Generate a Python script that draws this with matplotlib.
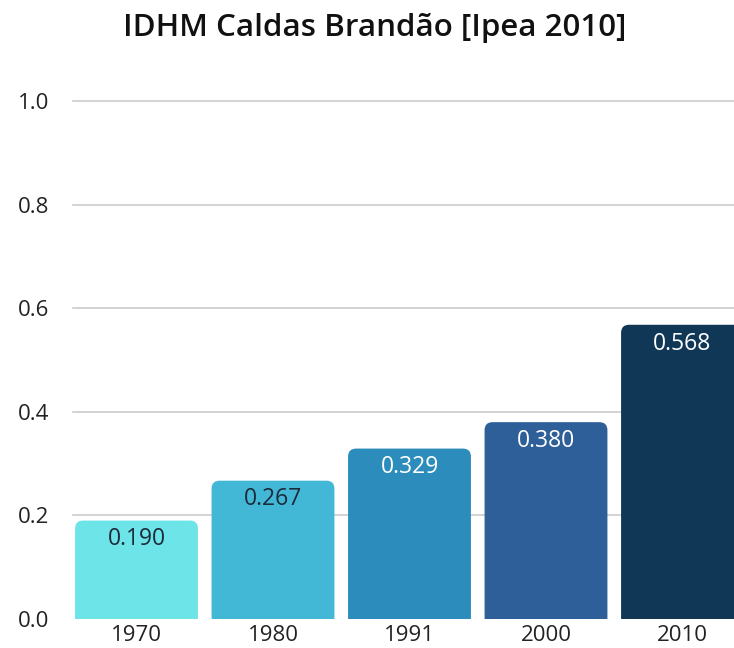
import matplotlib
matplotlib.use("Agg")
import matplotlib.pyplot as plt
from matplotlib.patches import FancyBboxPatch

years = ["1970", "1980", "1991", "2000", "2010"]
idhm = [0.190, 0.267, 0.329, 0.380, 0.568]
colors = ["#6ce4e8", "#42b8d6", "#2c8cbc", "#2f5f98", "#113757"]
label_colors = ["#1c2b3a", "#1c2b3a", "white", "white", "white"]
yticks = [0.0, 0.2, 0.4, 0.6, 0.8, 1.0]

plt.rcParams["font.family"] = ["Open Sans", "DejaVu Sans"]

W, H = 734, 648
fig = plt.figure(figsize=(W / 100, H / 100), dpi=100)
# axes in pixel terms: left 73, y=0 at 619, y=1 at 101, cell width 136.5
cell = 136.5
left_px = 73
xmin = -0.5 + (left_px - 68.25) / cell
width_px = (4.5 - xmin) * cell
ax = fig.add_axes([left_px / W, (H - 619) / H, width_px / W, (619 - 101) / H])
ax.set_xlim(xmin, 4.5)
ax.set_ylim(0, 1.0)

bars = ax.bar(range(len(years)), idhm, width=0.9)
rx = 8 / cell
ry = 8 / 518
for b, c, lc, v in zip(bars, colors, label_colors, idhm):
    b.set_visible(False)
    p = FancyBboxPatch((b.get_x(), -0.03), b.get_width(), v + 0.03,
                       boxstyle=f"round,pad=0,rounding_size={rx}",
                       mutation_aspect=ry / rx, facecolor=c, edgecolor="none",
                       zorder=3)
    ax.add_patch(p)
    ax.text(b.get_x() + b.get_width() / 2, v - 0.013, f"{v:.3f}",
            ha="center", va="top", fontsize=16.5, color=lc, zorder=4)

for t in yticks[1:]:
    ax.axhline(t, color="#cccccc", lw=1.2, zorder=1, clip_on=False)

ax.set_yticks(yticks)
ax.set_yticklabels([f"{t:.1f}" for t in yticks])
ax.set_xticks(range(len(years)))
ax.set_xticklabels(years)
ax.tick_params(axis="y", length=0, pad=17, labelsize=16, labelcolor="#222222")
ax.tick_params(axis="x", length=0, pad=4, labelsize=16, labelcolor="#222222")
for s in ax.spines.values():
    s.set_visible(False)

fig.text(375 / W, 1 - 28 / H, "IDHM Caldas Brandão [Ipea 2010]", ha="center",
         va="center", fontsize=22.5, fontweight="semibold", color="#111111")

fig.savefig("out.png", dpi=100)
